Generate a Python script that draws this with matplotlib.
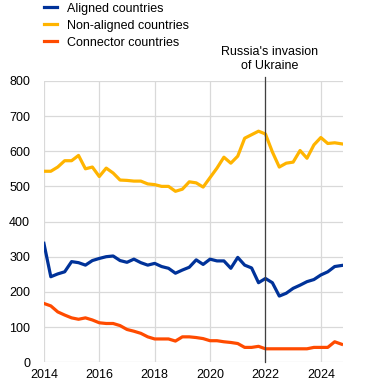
import matplotlib
matplotlib.use("Agg")
import matplotlib.pyplot as plt
import numpy as np

plt.rcParams["font.family"] = ["Liberation Sans", "DejaVu Sans"]
plt.rcParams["font.size"] = 9

# Quarterly data, 2014Q1 - 2024Q4
years = np.arange(2014, 2025, 0.25)

aligned = [
    338, 243, 251, 257,
    286, 283, 276, 289,
    295, 300, 302, 289,
    284, 293, 283, 276,
    281, 272, 267, 253,
    262, 270, 291, 278,
    293, 288, 288, 267,
    298, 276, 268, 226,
    238, 226, 188, 196,
    210, 219, 229, 235,
    248, 257, 272, 275,
]
non_aligned = [
    543, 543, 555, 573,
    573, 588, 550, 555,
    528, 552, 538, 518,
    517, 515, 515, 507,
    505, 500, 500, 486,
    492, 513, 510, 498,
    525, 552, 583, 566,
    586, 637, 647, 657,
    649, 598, 555, 566,
    569, 602, 580, 618,
    639, 622, 624, 621,
]
connector = [
    167, 160, 143, 134,
    126, 122, 126, 120,
    112, 110, 110, 104,
    93, 88, 82, 72,
    66, 66, 66, 60,
    72, 72, 70, 67,
    61, 61, 58, 56,
    53, 42, 42, 45,
    38, 38, 38, 38,
    38, 38, 38, 42,
    42, 42, 58, 51,
]

series_names = ["Aligned countries", "Non-aligned countries", "Connector countries"]
colors = ["#003299", "#ffb400", "#ff4b00"]

fig = plt.figure(figsize=(3.72, 3.89), dpi=100)
ax = fig.add_axes([0.118, 0.069, 0.804, 0.723])

for vals, name, c in zip([aligned, non_aligned, connector], series_names, colors):
    ax.plot(years, vals, color=c, lw=2.3, label=name, solid_joinstyle="round")

# Invasion marker
ax.plot([2022, 2022], [0, 812], color="#404040", lw=0.9, zorder=3, clip_on=False)
ax.text(2022.15, 826, "Russia's invasion\nof Ukraine", ha="center", va="bottom",
        fontsize=9, linespacing=1.25)

ax.set_xlim(2014, 2024.8)
ax.set_ylim(0, 800)
ax.set_xticks([2014, 2016, 2018, 2020, 2022, 2024])
ax.set_yticks(range(0, 801, 100))
ax.grid(True, color="#d9d9d9", lw=0.9)
ax.set_axisbelow(True)
for s in ax.spines.values():
    s.set_visible(False)
ax.tick_params(length=0)
ax.tick_params(axis="y", pad=10)
ax.tick_params(axis="x", pad=5)

fig.legend(loc="upper left", bbox_to_anchor=(0.087, 1.022), frameon=False,
           handlelength=1.1, handletextpad=0.75, labelspacing=0.4, fontsize=9)

fig.savefig("out.png", dpi=100)
